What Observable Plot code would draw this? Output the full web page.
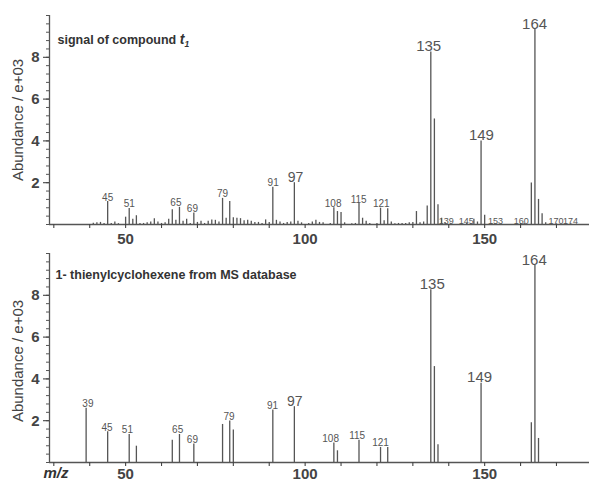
<!DOCTYPE html>
<html><head><meta charset="utf-8">
<script src="https://cdn.jsdelivr.net/npm/d3@7"></script>
<script src="https://cdn.jsdelivr.net/npm/@observablehq/plot@0.6"></script>
<style>
body{margin:0;background:#fff;}
#chart{position:relative;width:589px;height:481px;overflow:hidden;background:#fff;}
#chart svg{display:block;}
</style></head><body><div id="chart"></div>
<script>
// ---------- data ----------
const mzTop = [41,42,43,44,45,46,47,48,50,51,52,53,54,55,56,57,58,59,60,61,62,63,64,65,66,67,68,69,70,71,72,73,74,75,76,77,78,79,80,81,82,83,84,85,86,87,88,89,90,91,92,93,94,95,96,97,98,99,101,102,103,104,105,107,108,109,110,111,113,114,115,116,117,118,120,121,122,123,124,125,126,127,128,129,130,131,132,133,134,135,136,137,138,139,145,147,148,149,150,152,160,161,163,164,165,166,167,170,174];
const abTop = [0.06,0.08,0.1,0.05,1.1,0.05,0.12,0.04,0.35,0.77,0.25,0.42,0.05,0.05,0.08,0.12,0.28,0.12,0.05,0.08,0.25,0.7,0.2,0.82,0.15,0.25,0.05,0.55,0.1,0.15,0.05,0.15,0.22,0.2,0.12,1.25,0.3,1.1,0.32,0.3,0.28,0.18,0.2,0.15,0.1,0.1,0.05,0.22,0.1,1.78,0.2,0.12,0.05,0.1,0.12,2.0,0.15,0.08,0.05,0.12,0.2,0.1,0.08,0.05,0.8,0.62,0.58,0.08,0.03,0.05,1.0,0.3,0.15,0.05,0.05,0.78,0.18,0.75,0.12,0.04,0.05,0.05,0.05,0.08,0.1,0.62,0.08,0.12,0.88,8.25,5.05,0.95,0.3,0.08,0.05,0.25,0.12,4.0,0.44,0.05,0.05,0.05,1.98,9.33,1.2,0.52,0.08,0.03,0.03];

const mzBottom = [39,45,51,53,63,65,69,77,79,80,91,97,108,109,115,121,123,135,136,137,149,163,164,165];
const abBottom = [2.59,1.47,1.34,0.78,1.07,1.34,0.88,1.82,1.98,1.55,2.51,2.67,0.93,0.56,1.07,0.72,0.72,8.27,4.59,0.85,3.79,1.90,9.42,1.15];

const labelTopMz   = [45,51,64,68.6,77,91.1,97.3,107.8,114.9,121.2,134.4,139.3,144.9,149.1,153,160.2,163.9,169.9,173.9];
const labelTopAb   = [1.1,0.77,0.82,0.55,1.25,1.78,2.0,0.8,1.0,0.78,8.25,0,0,4.0,0,0,9.33,0,0];
const labelTopText = ["45","51","65","69","79","91","97","108","115","121","135","139","145","149","153","160","164","170","174"];

const labelBottomMz   = [39.5,44.8,50.5,64.5,68.6,78.8,90.9,97.1,107.1,114.5,121,135.4,148.6,163.8];
const labelBottomAb   = [2.59,1.47,1.34,1.34,0.88,1.98,2.51,2.67,0.93,1.07,0.72,8.27,3.79,9.42];
const labelBottomText = ["39","45","51","65","69","79","91","97","108","115","121","135","149","164"];

const xDomain = [28.8, 179.2];
const yDomain = [0, 10];
const xTickValues = [30,40,50,60,70,80,90,100,110,120,130,140,150,160,170];
const xTickLabels = [50,100,150];
const yTickLabels = [2,4,6,8];
const yMinorTicks = d3.range(0, 10.01, 0.4);

const titleTop = "signal of compound ";
const titleTopItalic = "t";
const titleTopSub = "1";
const titleBottom = "1- thienylcyclohexene from MS database";
const yTitle = "Abundance / e+03";
const xTitle = "m/z";

// ---------- drawing ----------
const INK = "#555";
const FONT = "Liberation Sans, Arial, Helvetica, sans-serif";

function labelSize(d) {
  if (d.ab >= 3) return 15;
  if (d.text === "97") return 14;
  if (d.ab === 0) return 9;
  return 10;
}

function panel(o) {
  const bars = o.mz.map((m, i) => ({mz: m, ab: o.ab[i]}));
  const labels = o.labText.map((t, i) => ({mz: o.labMz[i], ab: o.labAb[i], text: t}));
  const marks = [
    Plot.ruleX(bars, {x: "mz", y1: 0, y2: "ab", stroke: INK, strokeWidth: 1.3}),
    Plot.ruleY([0], {stroke: INK, strokeWidth: 1.3}),
    Plot.ruleX([xDomain[0]], {y1: yDomain[0], y2: yDomain[1], stroke: INK, strokeWidth: 1.3}),
    Plot.axisX(xTickValues, {tickSize: 4, tickPadding: o.tickPad, label: null,
      tickFormat: d => xTickLabels.includes(d) ? String(d) : "",
      fontSize: 15, fontWeight: "bold", color: "#444", strokeWidth: 1.1}),
    Plot.axisY(yMinorTicks, {tickSize: 3, label: null, tickFormat: () => "", color: INK, strokeWidth: 1}),
    Plot.axisY(yTickLabels, {tickSize: 6, tickPadding: 4, label: null,
      fontSize: 15, fontWeight: "bold", color: "#444", strokeWidth: 1.1}),
    Plot.text(labels, {x: "mz", y: "ab", text: "text", fontSize: labelSize,
      lineAnchor: "bottom", dy: -1, fill: INK}),
    Plot.text([o.title], {frameAnchor: "top-left", dx: o.titleDx, dy: o.titleDy, textAnchor: "start",
      lineAnchor: "middle", fontWeight: "bold", fontSize: 12.5, fill: "#333"}),
    Plot.text([yTitle], {frameAnchor: "left", dx: -31, dy: o.yTitleDy, rotate: -90,
      textAnchor: "middle", lineAnchor: "middle", fontSize: 15, fill: "#444"})
  ];
  if (o.xTitle) {
    marks.push(Plot.text([xTitle], {frameAnchor: "bottom-left", dx: -6, dy: 11, textAnchor: "start",
      lineAnchor: "middle", fontSize: 15, fontStyle: "italic", fontWeight: "bold", fill: "#333"}));
  }
  return Plot.plot({
    width: 589, height: o.height,
    marginLeft: 49, marginRight: 0, marginTop: o.marginTop, marginBottom: o.marginBottom,
    style: {overflow: "visible", background: "transparent", fontFamily: FONT},
    x: {domain: xDomain, axis: null},
    y: {domain: yDomain, axis: null},
    marks
  });
}

const topPanel = panel({mz: mzTop, ab: abTop, labMz: labelTopMz, labAb: labelTopAb, labText: labelTopText,
  title: titleTop, height: 240, marginTop: 15, marginBottom: 16, tickPad: 5,
  titleDx: 8, titleDy: 24, yTitleDy: 0, xTitle: false});
const bottomPanel = panel({mz: mzBottom, ab: abBottom, labMz: labelBottomMz, labAb: labelBottomAb, labText: labelBottomText,
  title: titleBottom, height: 241, marginTop: 13, marginBottom: 19, tickPad: 2,
  titleDx: 6, titleDy: 21, yTitleDy: 3, xTitle: true});

const chart = document.getElementById("chart");
chart.appendChild(topPanel);
chart.appendChild(bottomPanel);

// italic t with subscript 1 appended to the top title
const tt = [...topPanel.querySelectorAll("text")].find(t => t.textContent === titleTop);
if (tt) {
  const ns = "http://www.w3.org/2000/svg";
  const s1 = document.createElementNS(ns, "tspan");
  s1.setAttribute("font-style", "italic");
  s1.setAttribute("font-size", "14");
  s1.textContent = titleTopItalic;
  const s2 = document.createElementNS(ns, "tspan");
  s2.setAttribute("font-size", "8.5");
  s2.setAttribute("dy", "3");
  s2.setAttribute("font-style", "italic");
  s2.textContent = titleTopSub;
  tt.appendChild(s1);
  tt.appendChild(s2);
}
</script></body></html>
